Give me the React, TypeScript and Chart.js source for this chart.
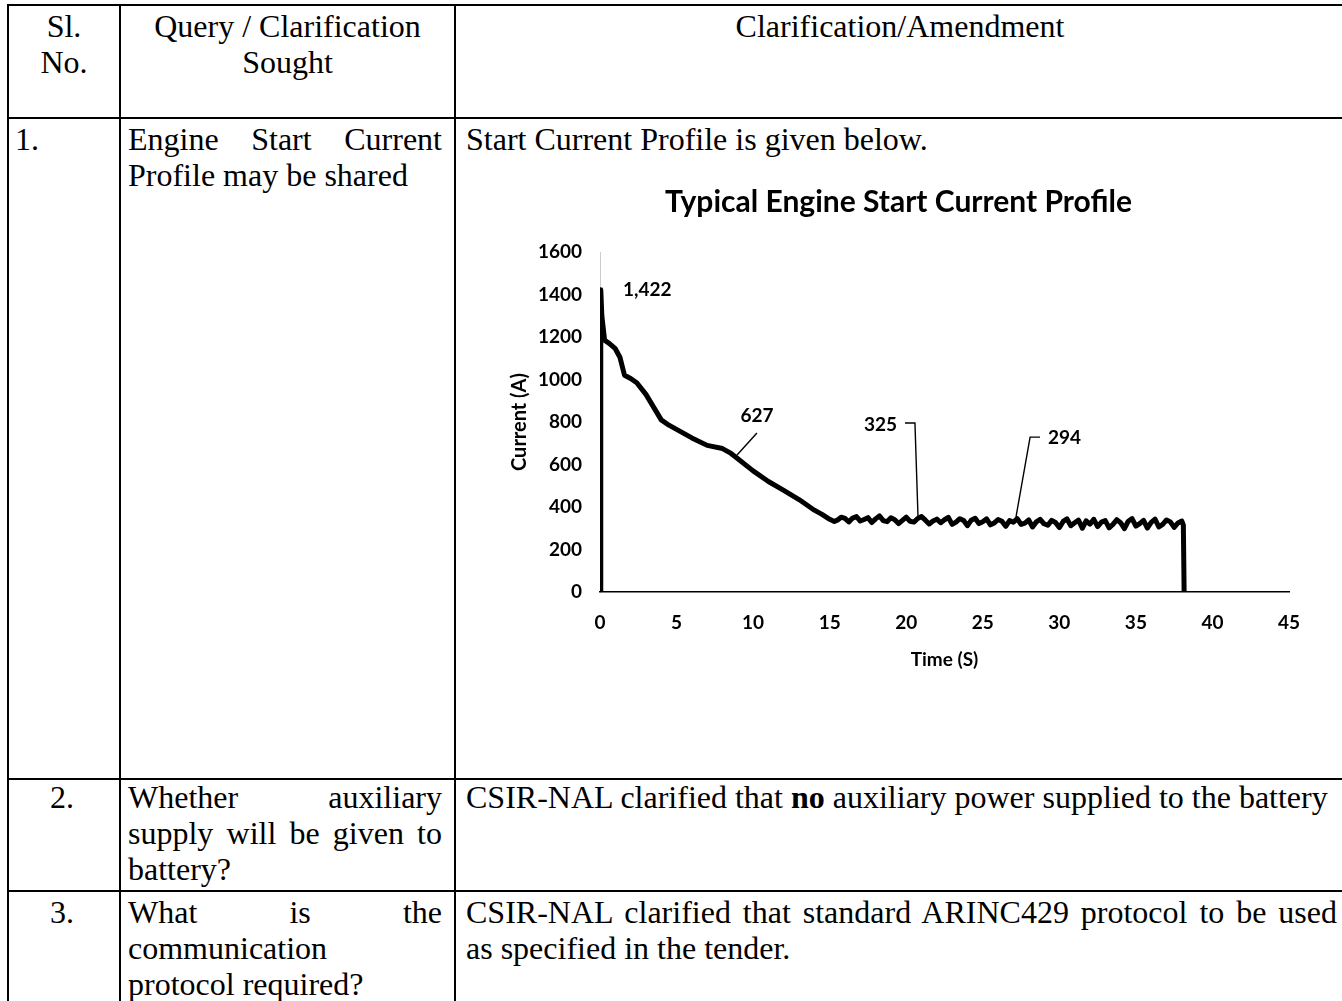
import React, { useEffect, useRef } from "react";
import { Chart, registerables } from "chart.js";

Chart.register(...registerables);

// ---------------- chart data ----------------
const chartTitle = "Typical Engine Start Current Profile";
const xAxisTitle = "Time (S)";
const yAxisTitle = "Current (A)";
const xMin = 0;
const xMax = 45;
const xStep = 5;
const yMin = 0;
const yMax = 1600;
const yStep = 200;

const timeS = [
  0, 0.05, 0.12, 0.3, 0.6, 1.0, 1.3, 1.6, 2.0, 2.4, 3.0, 3.5, 4.0, 4.5, 5.0, 6.0, 7.0, 8.0, 8.5, 9.0,
  10.0, 11.0, 12.0, 13.0, 14.0, 14.5, 15.0, 15.3,
  15.5, 15.75, 16.0, 16.25, 16.5, 16.75, 17.0, 17.25, 17.5, 17.75,
  18.0, 18.25, 18.5, 18.75, 19.0, 19.25, 19.5, 19.75, 20.0, 20.25,
  20.5, 20.75, 21.0, 21.25, 21.5, 21.75, 22.0, 22.25, 22.5, 22.75,
  23.0, 23.25, 23.5, 23.75, 24.0, 24.25, 24.5, 24.75, 25.0, 25.25,
  25.5, 25.75, 26.0, 26.25, 26.5, 26.75, 27.0, 27.25, 27.5, 27.75,
  28.0, 28.25, 28.5, 28.75, 29.0, 29.25, 29.5, 29.75, 30.0, 30.25,
  30.5, 30.75, 31.0, 31.25, 31.5, 31.75, 32.0, 32.25, 32.5, 32.75,
  33.0, 33.25, 33.5, 33.75, 34.0, 34.25, 34.5, 34.75, 35.0, 35.25,
  35.5, 35.75, 36.0, 36.25, 36.5, 36.75, 37.0, 37.25, 37.5, 37.75,
  38.0, 38.1, 38.15,
];

const currentA = [
  0, 1422, 1300, 1185, 1170, 1145, 1105, 1020, 1005, 985, 930, 870, 810, 785, 765, 725, 690, 675, 655, 627,
  570, 520, 478, 435, 385, 365, 342, 332,
  338, 352, 346, 330, 348, 355, 334, 341, 350, 327,
  344, 358, 336, 331, 349, 340, 322, 337, 352, 333,
  329, 346, 355, 338, 320, 334, 343, 326, 340, 351,
  318, 329, 345, 336, 312, 338, 347, 322, 331, 344,
  316, 325, 341, 333, 309, 336, 328, 345, 318, 324,
  339, 306, 330, 342, 321, 314, 337, 327, 303, 332,
  344, 312, 326, 338, 300, 335, 319, 342, 308, 329,
  336, 302, 318, 340, 326, 298, 333, 345, 310, 322,
  337, 301, 328, 343, 306, 318, 339, 330, 304, 325,
  334, 315, 0,
];

// callout labels (data coordinates)
const calloutText = ["1,422", "627", "325", "294"];
const calloutX = [1.5, 10.25, 19.4, 29.26];
const calloutY = [1422, 828, 786, 725];
const calloutAlign: CanvasTextAlign[] = ["left", "center", "right", "left"];
const leaderX = [[], [10.25, 8.95], [19.92, 20.57, 20.77], [28.74, 28.09, 27.17]];
const leaderY = [[], [748, 645], [795, 795, 353], [729, 729, 353]];

const calloutPlugin = {
  id: "callouts",
  afterDatasetsDraw(chart: any) {
    const { ctx, scales } = chart;
    const xs = scales.x;
    const ys = scales.y;
    ctx.save();
    ctx.strokeStyle = "#000";
    ctx.lineWidth = 1.4;
    leaderX.forEach((lx, i) => {
      if (lx.length < 2) return;
      ctx.beginPath();
      lx.forEach((xv, j) => {
        const px = xs.getPixelForValue(xv);
        const py = ys.getPixelForValue(leaderY[i][j]);
        if (j === 0) ctx.moveTo(px, py);
        else ctx.lineTo(px, py);
      });
      ctx.stroke();
    });
    ctx.fillStyle = "#000";
    ctx.font = "bold 19px Lato";
    ctx.textBaseline = "middle";
    calloutText.forEach((t, i) => {
      ctx.textAlign = calloutAlign[i];
      ctx.fillText(t, xs.getPixelForValue(calloutX[i]), ys.getPixelForValue(calloutY[i]));
    });
    ctx.restore();
  },
};

function CurrentChart() {
  const ref = useRef<HTMLCanvasElement | null>(null);
  useEffect(() => {
    if (!ref.current) return;
    const points = timeS.map((t, i) => ({ x: t, y: currentA[i] }));
    const chart = new Chart(ref.current, {
      type: "line",
      data: {
        datasets: [
          {
            label: "Current",
            data: points,
            borderColor: "#000",
            backgroundColor: "#000",
            borderWidth: 5,
            borderJoinStyle: "round",
            pointRadius: 0,
            tension: 0,
            fill: false,
          },
        ],
      },
      options: {
        animation: false,
        responsive: false,
        layout: { padding: { left: 0, right: 14, top: 0, bottom: 19 } },
        plugins: {
          legend: { display: false },
          tooltip: { enabled: false },
          title: {
            display: true,
            text: chartTitle,
            color: "#000",
            font: { family: "Lato", size: 30, weight: "bold" },
            padding: { top: 14, bottom: 32 },
          },
        },
        scales: {
          x: {
            type: "linear",
            min: xMin,
            max: xMax,
            ticks: {
              stepSize: xStep,
              color: "#000",
              padding: 19,
              font: { family: "Lato", size: 19, weight: "bold" },
              callback: (v: any) => String(v),
            },
            grid: { display: false, drawTicks: false },
            border: { display: true, color: "#000", width: 1.5 },
            title: {
              display: true,
              text: xAxisTitle,
              color: "#000",
              font: { family: "Lato", size: 19, weight: "bold" },
              padding: { top: 0, bottom: 0 },
            },
            afterFit(scale: any) {
              scale.height = 79;
              scale.paddingLeft = 0;
              scale.paddingRight = 0;
            },
          },
          y: {
            min: yMin,
            max: yMax,
            ticks: {
              stepSize: yStep,
              color: "#000",
              padding: 18,
              font: { family: "Lato", size: 19, weight: "bold" },
              callback: (v: any) => String(v),
            },
            grid: { display: false, drawTicks: false },
            border: { display: true, color: "rgba(0,0,0,0.2)", width: 1 },
            title: {
              display: true,
              text: yAxisTitle,
              color: "#000",
              font: { family: "Lato", size: 20, weight: "bold" },
              padding: { top: 0, bottom: 0 },
            },
            afterFit(scale: any) {
              scale.width = 92;
              scale.paddingTop = 0;
              scale.paddingBottom = 0;
            },
          },
        },
      },
      plugins: [calloutPlugin],
    });
    return () => chart.destroy();
  }, []);
  return (
    <canvas
      ref={ref}
      width={795}
      height={520}
      style={{ position: "absolute", left: 508, top: 170, width: 795, height: 520, pointerEvents: "none" }}
    />
  );
}

// ---------------- table ----------------
const LINE = 2;
const hLines = [4, 117, 778, 890];
const vLines = [7, 119, 454];

const serif: React.CSSProperties = {
  fontFamily: "'Liberation Serif', 'Times New Roman', serif",
  fontSize: 32,
  lineHeight: "36px",
  color: "#000",
  whiteSpace: "nowrap",
};

function Cell(props: { left: number; top: number; width: number; children: React.ReactNode; align?: any }) {
  return (
    <div style={{ ...serif, position: "absolute", left: props.left, top: props.top, width: props.width, textAlign: props.align || "left" }}>
      {props.children}
    </div>
  );
}

const J = (props: { children: React.ReactNode }) => (
  <div style={{ textAlign: "justify", textAlignLast: "justify", whiteSpace: "normal" }}>{props.children}</div>
);

export default function App() {
  return (
    <div style={{ position: "fixed", left: 0, top: 0, width: 1342, height: 1001, background: "#fff", overflow: "hidden" }}>
      {hLines.map((y, i) => (
        <div key={"h" + i} style={{ position: "absolute", left: 7, top: y, width: 1400, height: LINE, background: "#000" }} />
      ))}
      {vLines.map((x, i) => (
        <div key={"v" + i} style={{ position: "absolute", left: x, top: 4, width: LINE, height: 1100, background: "#000" }} />
      ))}

      {/* header */}
      <Cell left={8} top={8} width={112} align="center">
        <div>Sl.</div>
        <div>No.</div>
      </Cell>
      <Cell left={120} top={8} width={335} align="center">
        <div>Query / Clarification</div>
        <div>Sought</div>
      </Cell>
      <Cell left={455} top={8} width={890} align="center">
        <div>Clarification/Amendment</div>
      </Cell>

      {/* row 1 */}
      <Cell left={15} top={121} width={100}>
        <div>1.</div>
      </Cell>
      <Cell left={128} top={121} width={314}>
        <J>Engine Start Current</J>
        <div>Profile may be shared</div>
      </Cell>
      <Cell left={466} top={121} width={871}>
        <div>Start Current Profile is given below.</div>
      </Cell>

      {/* row 2 */}
      <Cell left={50} top={779} width={60}>
        <div>2.</div>
      </Cell>
      <Cell left={128} top={779} width={314}>
        <J>Whether auxiliary</J>
        <J>supply will be given to</J>
        <div>battery?</div>
      </Cell>
      <Cell left={466} top={779} width={871}>
        <div>
          CSIR-NAL clarified that <b>no</b> auxiliary power supplied to the battery
        </div>
      </Cell>

      {/* row 3 */}
      <Cell left={50} top={894} width={60}>
        <div>3.</div>
      </Cell>
      <Cell left={128} top={894} width={314}>
        <J>What is the</J>
        <div>communication</div>
        <div>protocol required?</div>
      </Cell>
      <Cell left={466} top={894} width={871}>
        <J>CSIR-NAL clarified that standard ARINC429 protocol to be used</J>
        <div>as specified in the tender.</div>
      </Cell>

      <CurrentChart />
    </div>
  );
}
